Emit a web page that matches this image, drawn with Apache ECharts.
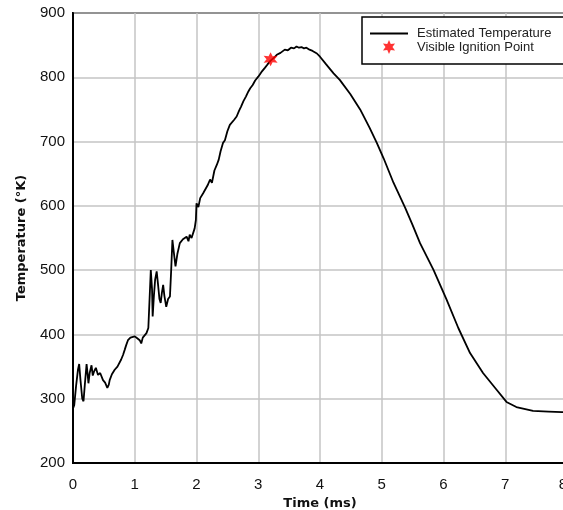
<!DOCTYPE html>
<html>
<head>
<meta charset="utf-8">
<script src="https://cdn.jsdelivr.net/npm/echarts@6/dist/echarts.min.js"></script>
<style>
html,body{margin:0;padding:0;background:#fff;}
#chart{width:563px;height:510px;}
</style>
</head>
<body>
<div id="chart"></div>
<script>
// Time (ms)
var timeMs = [0.0,0.02,0.05,0.08,0.10,0.12,0.15,0.17,0.19,0.22,0.24,0.25,0.27,0.30,0.32,0.34,0.37,0.405,0.44,0.486,0.52,0.556,0.58,0.594,0.63,0.675,0.72,0.78,0.81,0.837,0.86,0.89,0.93,0.96,1.0,1.04,1.08,1.105,1.13,1.16,1.19,1.22,1.24,1.26,1.28,1.29,1.31,1.33,1.355,1.38,1.40,1.42,1.44,1.46,1.48,1.51,1.54,1.57,1.59,1.61,1.63,1.66,1.69,1.73,1.76,1.78,1.81,1.84,1.87,1.89,1.92,1.94,1.97,1.99,2.0,2.03,2.06,2.11,2.14,2.18,2.22,2.25,2.29,2.33,2.36,2.39,2.43,2.46,2.50,2.54,2.57,2.61,2.65,2.69,2.72,2.76,2.80,2.84,2.87,2.91,2.95,3.0,3.05,3.11,3.15,3.20,3.25,3.30,3.36,3.43,3.48,3.53,3.58,3.62,3.66,3.70,3.74,3.78,3.83,3.88,3.95,4.0,4.1,4.22,4.32,4.49,4.65,4.8,4.92,5.03,5.19,5.38,5.5,5.62,5.84,6.05,6.24,6.43,6.64,6.86,7.02,7.18,7.45,7.7,7.92,8.0];
// Estimated temperature (°K)
var tempK = [285,290,320,345,354,330,300,296,320,354,335,324,340,352,336,342,348,337,340,329,325,317,322,329,338,345,350,361,368,376,383,391,395,398,397,394,391,386,395,398,402,410,455,500,470,428,460,485,498,475,455,449,465,477,460,443,455,459,500,547,530,506,525,542,540,548,547,552,545,555,550,547,565,578,604,598,612,620,617,632,641,636,655,664,672,685,698,702,716,726,723,734,739,748,754,763,770,778,783,788,795,801,808,815,820,826,830,835,838,843,842,846,845,848,846,847,845,846,843,841,837,832,820,806,796,774,750,722,698,674,636,597,570,542,500,454,410,371,340,314,295,287,281,280,279,279];
// Visible ignition point
var ignitionTime = [3.2];
var ignitionTemp = [828];

var xTicks = [0, 8, 1];
var yTicks = [200, 900, 100];

var lineData = timeMs.map(function(t, i){ return [t, tempK[i]]; });
var pointData = ignitionTime.map(function(t, i){ return [t, ignitionTemp[i]]; });

var star = 'path://M50,0 L62.5,28.35 L93.3,25 L75,50 L93.3,75 L62.5,71.65 L50,100 L37.5,71.65 L6.7,75 L25,50 L6.7,25 L37.5,28.35 Z';

var chart = echarts.init(document.getElementById('chart'), null, {renderer: 'canvas'});
chart.setOption({
  animation: false,
  backgroundColor: '#fff',
  grid: {left: 73, top: 13, right: -4, bottom: 47, outerBoundsMode: 'none', containLabel: false, show: true, borderColor: '#000', borderWidth: 2, backgroundColor: 'transparent'},
  legend: {
    left: 362, top: 17,
    orient: 'vertical',
    backgroundColor: '#fff',
    borderColor: '#000',
    borderWidth: 1.5,
    borderRadius: 0,
    padding: [10, 30, 10, 7],
    itemWidth: 38,
    itemHeight: 14,
    itemGap: 0,
    textStyle: {fontFamily: 'Liberation Sans, Arial, sans-serif', fontSize: 13, color: '#222', padding: [0, 0, 0, 4]},
    data: [{name: 'Estimated Temperature', itemStyle: {opacity: 0}}, {name: 'Visible Ignition Point'}]
  },
  xAxis: {
    type: 'value', min: xTicks[0], max: xTicks[1], interval: xTicks[2],
    name: 'Time (ms)', nameLocation: 'middle', nameGap: 31,
    nameTextStyle: {fontFamily: 'DejaVu Sans, sans-serif', fontWeight: 'bold', fontSize: 13, color: '#111'},
    axisLine: {show: true, lineStyle: {color: '#000', width: 2}},
    axisTick: {show: false},
    axisLabel: {fontFamily: 'Liberation Sans, Arial, sans-serif', fontSize: 15, color: '#111', margin: 14, alignMaxLabel: 'right'},
    splitLine: {show: true, lineStyle: {color: '#c4c4c4', width: 1.5}}
  },
  yAxis: {
    type: 'value', min: yTicks[0], max: yTicks[1], interval: yTicks[2],
    name: 'Temperature (°K)', nameLocation: 'middle', nameGap: 45,
    nameTextStyle: {fontFamily: 'DejaVu Sans, sans-serif', fontWeight: 'bold', fontSize: 13, color: '#111'},
    axisLine: {show: true, lineStyle: {color: '#000', width: 2}},
    axisTick: {show: false},
    axisLabel: {fontFamily: 'Liberation Sans, Arial, sans-serif', fontSize: 15, color: '#111', margin: 8},
    splitLine: {show: true, lineStyle: {color: '#c4c4c4', width: 1.5}}
  },
  series: [
    {
      name: 'Estimated Temperature', type: 'line', data: lineData,
      symbol: 'none', showSymbol: false,
      lineStyle: {color: '#000', width: 1.8},
      itemStyle: {color: '#000'},
      z: 3
    },
    {
      name: 'Visible Ignition Point', type: 'scatter', data: pointData,
      symbol: star, symbolSize: 14,
      itemStyle: {color: '#f00'},
      z: 4
    }
  ]
});
</script>
</body>
</html>
